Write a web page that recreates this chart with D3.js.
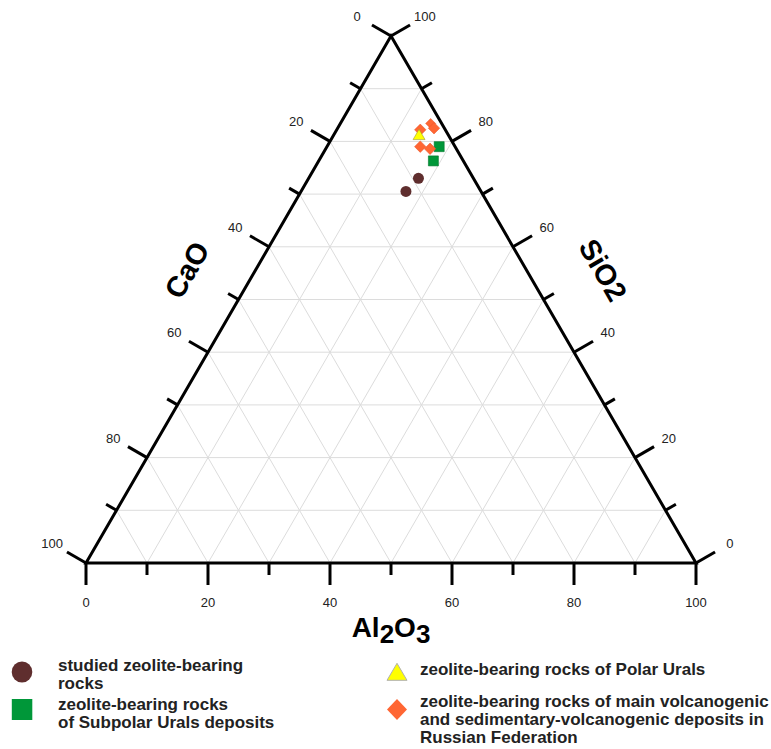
<!DOCTYPE html>
<html>
<head>
<meta charset="utf-8">
<script src="https://cdn.jsdelivr.net/npm/d3@7/dist/d3.min.js"></script>
<style>
  html, body { margin: 0; padding: 0; background: #fff; }
  svg { display: block; }
</style>
</head>
<body>
<svg id="chart" width="771" height="749"></svg>
<script>
// ---- data: [SiO2, Al2O3, CaO] in % ----
const studied  = [[73.0, 18.0, 9.0], [70.5, 17.2, 12.3]];
const subpolar = [[79.0, 18.4, 2.6], [76.3, 18.8, 4.9]];
const polar    = [[81.0, 14.1, 4.9]];
const russian  = [[83.4, 14.8, 1.8], [82.5, 15.8, 1.7], [82.2, 13.7, 4.1], [79.0, 15.3, 5.7], [78.6, 17.1, 4.3]];

const tickValues = [0, 10, 20, 30, 40, 50, 60, 70, 80, 90, 100];
const labelValues = [0, 20, 40, 60, 80, 100];

const legendItems = [
  { key: "studied", lines: ["studied zeolite-bearing", "rocks"] },
  { key: "subpolar", lines: ["zeolite-bearing rocks", "of Subpolar Urals deposits"] },
  { key: "polar", lines: ["zeolite-bearing rocks of Polar Urals"] },
  { key: "russian", lines: ["zeolite-bearing rocks of main volcanogenic", "and sedimentary-volcanogenic deposits in", "Russian Federation"] }
];

// ---- layout ----
const svg = d3.select("#chart");
const X0 = 86, X1 = 696, YB = 563, YT = 36;
const xs = d3.scaleLinear().domain([0, 100]).range([X0, X1]);
const ys = d3.scaleLinear().domain([0, 100]).range([YB, YT]);
// project (SiO2, Al2O3) -> screen
const proj = (si, al) => [xs(al + si / 2), ys(si)];

const font = "'Liberation Sans', Arial, sans-serif";
const c30 = Math.cos(Math.PI / 6), s30 = 0.5;

// grid
const grid = svg.append("g").attr("stroke", "#dcdcdc").attr("stroke-width", 1).attr("fill", "none");
tickValues.filter(v => v > 0 && v < 100).forEach(v => {
  let a = proj(v, 0), b = proj(v, 100 - v);
  grid.append("line").attr("x1", a[0]).attr("y1", a[1]).attr("x2", b[0]).attr("y2", b[1]);
  a = proj(0, v); b = proj(100 - v, v);
  grid.append("line").attr("x1", a[0]).attr("y1", a[1]).attr("x2", b[0]).attr("y2", b[1]);
  a = proj(0, 100 - v); b = proj(100 - v, 0);
  grid.append("line").attr("x1", a[0]).attr("y1", a[1]).attr("x2", b[0]).attr("y2", b[1]);
});

// ticks
const ticks = svg.append("g").attr("stroke", "#000").attr("stroke-width", 3).attr("stroke-linecap", "butt");
const labels = svg.append("g").attr("font-family", font).attr("font-size", 13).attr("fill", "#222")
  .attr("text-anchor", "middle").attr("dominant-baseline", "central");
tickValues.forEach(v => {
  const len = v % 20 === 0 ? 22 : 12;
  let p = proj(0, v);
  ticks.append("line").attr("x1", p[0]).attr("y1", p[1]).attr("x2", p[0]).attr("y2", p[1] + len);
  let q = proj(100 - v, 0);
  ticks.append("line").attr("x1", q[0]).attr("y1", q[1]).attr("x2", q[0] - c30 * len).attr("y2", q[1] - s30 * len);
  let r = proj(v, 100 - v);
  ticks.append("line").attr("x1", r[0]).attr("y1", r[1]).attr("x2", r[0] + c30 * len).attr("y2", r[1] - s30 * len);
  if (labelValues.includes(v)) {
    labels.append("text").attr("x", p[0]).attr("y", p[1] + 39).text(v);
    labels.append("text").attr("x", q[0] - c30 * 39).attr("y", q[1] - s30 * 39).text(v);
    labels.append("text").attr("x", r[0] + c30 * 39).attr("y", r[1] - s30 * 39).text(v);
  }
});

// triangle outline
const A = proj(100, 0), B = proj(0, 0), C = proj(0, 100);
svg.append("path").attr("d", `M${A}L${B}L${C}Z`).attr("fill", "none")
  .attr("stroke", "#000").attr("stroke-width", 3).attr("stroke-linejoin", "miter");

// axis titles
svg.append("text").attr("font-family", font).attr("font-weight", "bold").attr("font-size", 29).attr("fill", "#000")
  .attr("text-anchor", "middle").attr("dominant-baseline", "central")
  .attr("transform", "translate(187,270) rotate(-60)").text("CaO");
svg.append("text").attr("font-family", font).attr("font-weight", "bold").attr("font-size", 29).attr("fill", "#000")
  .attr("text-anchor", "middle").attr("dominant-baseline", "central")
  .attr("transform", "translate(603,270) rotate(60)").text("SiO2");
const al = svg.append("text").attr("font-family", font).attr("font-weight", "bold").attr("font-size", 28).attr("fill", "#000")
  .attr("text-anchor", "middle").attr("x", 391).attr("y", 637);
al.append("tspan").text("Al");
al.append("tspan").attr("font-size", 26).attr("dy", 6).text("2");
al.append("tspan").attr("dy", -6).text("O");
al.append("tspan").attr("font-size", 26).attr("dy", 6).text("3");

// styles
const styles = {
  studied:  { fill: "#5f2e2e", stroke: "none" },
  subpolar: { fill: "#009739", stroke: "#00762b" },
  polar:    { fill: "#ffff00", stroke: "#9c9c30" },
  russian:  { fill: "#ff6633", stroke: "#e8542a" }
};

// data marks
const marks = svg.append("g");
marks.selectAll(".studied").data(studied).join("circle")
  .attr("cx", d => proj(d[0], d[1])[0]).attr("cy", d => proj(d[0], d[1])[1]).attr("r", 5.5)
  .attr("fill", styles.studied.fill);
marks.selectAll(".subpolar").data(subpolar).join("path")
  .attr("d", d3.symbol(d3.symbolSquare, 100))
  .attr("transform", d => `translate(${proj(d[0], d[1])})`)
  .attr("fill", styles.subpolar.fill).attr("stroke", styles.subpolar.stroke).attr("stroke-width", 0.6);
marks.selectAll(".russian").data(russian).join("path")
  .attr("d", (d, i) => d3.symbol(d3.symbolSquare, i === 0 ? 50 : 66)())
  .attr("transform", d => `translate(${proj(d[0], d[1])}) rotate(45)`)
  .attr("fill", styles.russian.fill).attr("stroke", styles.russian.stroke).attr("stroke-width", 0.5);
marks.selectAll(".polar").data(polar).join("path")
  .attr("d", d3.symbol(d3.symbolTriangle, 62))
  .attr("transform", d => `translate(${proj(d[0], d[1])})`)
  .attr("fill", styles.polar.fill).attr("stroke", styles.polar.stroke).attr("stroke-width", 0.6);

// legend (text y = baseline)
const lg = svg.append("g").attr("font-family", font).attr("font-weight", "bold").attr("font-size", 17).attr("fill", "#222");
const legendPos = {
  studied:  { mx: 22, my: 672, tx: 58, ty: 671 },
  subpolar: { mx: 22, my: 709.5, tx: 58, ty: 709.5 },
  polar:    { mx: 397, my: 672, tx: 420, ty: 675 },
  russian:  { mx: 397, my: 709.5, tx: 420, ty: 707 }
};
legendItems.forEach(it => {
  const p = legendPos[it.key];
  const st = styles[it.key];
  if (it.key === "studied") {
    lg.append("ellipse").attr("cx", p.mx).attr("cy", p.my).attr("rx", 10.3).attr("ry", 10.5).attr("fill", st.fill);
  } else if (it.key === "subpolar") {
    lg.append("rect").attr("x", p.mx - 10.2).attr("y", p.my - 10.5).attr("width", 20.5).attr("height", 21).attr("fill", st.fill);
  } else if (it.key === "polar") {
    lg.append("path").attr("d", `M${p.mx},${p.my - 8.7}L${p.mx + 10},${p.my + 8.3}L${p.mx - 10},${p.my + 8.3}Z`)
      .attr("fill", st.fill).attr("stroke", "#b0b0b0").attr("stroke-width", 1);
  } else {
    lg.append("path").attr("d", `M${p.mx},${p.my - 10.5}L${p.mx + 10},${p.my}L${p.mx},${p.my + 10.5}L${p.mx - 10},${p.my}Z`)
      .attr("fill", st.fill);
  }
  it.lines.forEach((ln, i) => {
    lg.append("text").attr("x", p.tx).attr("y", p.ty + i * 18).text(ln);
  });
});
</script>
</body>
</html>
